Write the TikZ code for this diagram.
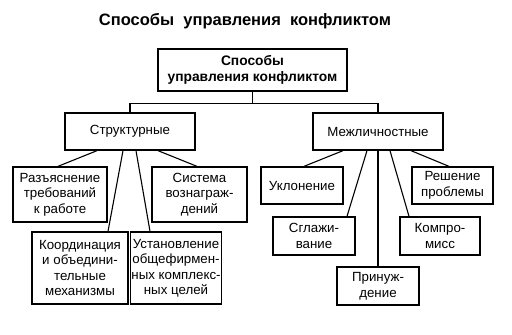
\documentclass[tikz,border=0pt]{standalone}
\usepackage{fontspec}
\setmainfont{Liberation Sans}
\usetikzlibrary{positioning, calc}

\begin{document}
\begin{tikzpicture}[
  x=1pt, y=-1pt,
  methodbox/.style={draw, line width=1.3pt, inner sep=1pt, align=center, font=\fontsize{13.3}{15.5}\selectfont},
  linkstyle/.style={line width=1.1pt}
  ]
  \useasboundingbox (0,0) rectangle (512,335);
  % Title
  \node[font=\fontsize{16.5}{19}\selectfont\bfseries] (title) at (245,21) {Способы\ \ управления\ \ конфликтом};
  % Root
  \node[methodbox, minimum width=189pt, minimum height=42pt, font=\fontsize{13.8}{16.5}\selectfont\bfseries] (root) at (252.5,70) {Способы\\управления конфликтом};
  % Groups
  \node[methodbox, minimum width=130pt, minimum height=37pt] (struct) at (130,131.5) {Структурные};
  \node[methodbox, minimum width=130pt, minimum height=37pt] (inter) at (378,131.5) {Межличностные};
  % Structural methods
  \node[methodbox, minimum width=94pt, minimum height=55pt] (explain) at (60,194.5) {Разъяснение\\требований\\к работе};
  \node[methodbox, minimum width=95pt, minimum height=55pt] (reward) at (199.5,194.5) {Система\\вознаграж-\\дений};
  \node[methodbox, minimum width=96pt, minimum height=72pt] (coord) at (80,268) {Координация\\и объедини-\\тельные\\механизмы};
  \node[methodbox, minimum width=90pt, minimum height=72pt] (goals) at (176,268) {Установление\\общефирмен-\\ных комплекс-\\ных целей};
  % Interpersonal methods
  \node[methodbox, minimum width=82pt, minimum height=37pt] (avoid) at (302,185.5) {Уклонение};
  \node[methodbox, minimum width=81pt, minimum height=37pt] (solve) at (452.5,185.5) {Решение\\проблемы};
  \node[methodbox, minimum width=82pt, minimum height=38pt] (smooth) at (314,236) {Сглажи-\\вание};
  \node[methodbox, minimum width=80pt, minimum height=38pt] (compr) at (440,236) {Компро-\\мисс};
  \node[methodbox, minimum width=82pt, minimum height=38pt] (force) at (378,286) {Принуж-\\дение};
  % Links
  \draw[linkstyle] (root.south) -- ++(0,12) coordinate (fork) -| (struct.north);
  \draw[linkstyle] (fork) -| (inter.north);
  \draw[linkstyle] ([xshift=-33pt]struct.south) -- ([xshift=-2pt]explain.north);
  \draw[linkstyle] ([xshift=-7pt]struct.south) -- ([xshift=28pt]coord.north);
  \draw[linkstyle] ([xshift=6pt]struct.south) -- ([xshift=-26pt]goals.north);
  \draw[linkstyle] ([xshift=28pt]struct.south) -- ([xshift=-2.5pt]reward.north);
  \draw[linkstyle] ([xshift=-35pt]inter.south) -- ([xshift=2pt]avoid.north);
  \draw[linkstyle] ([xshift=-11pt]inter.south) -- ([xshift=33pt]smooth.north);
  \draw[linkstyle] (inter.south) -- (force.north);
  \draw[linkstyle] ([xshift=12pt]inter.south) -- ([xshift=-31pt]compr.north);
  \draw[linkstyle] ([xshift=33pt]inter.south) -- ([xshift=-3.5pt]solve.north);
\end{tikzpicture}
\end{document}
